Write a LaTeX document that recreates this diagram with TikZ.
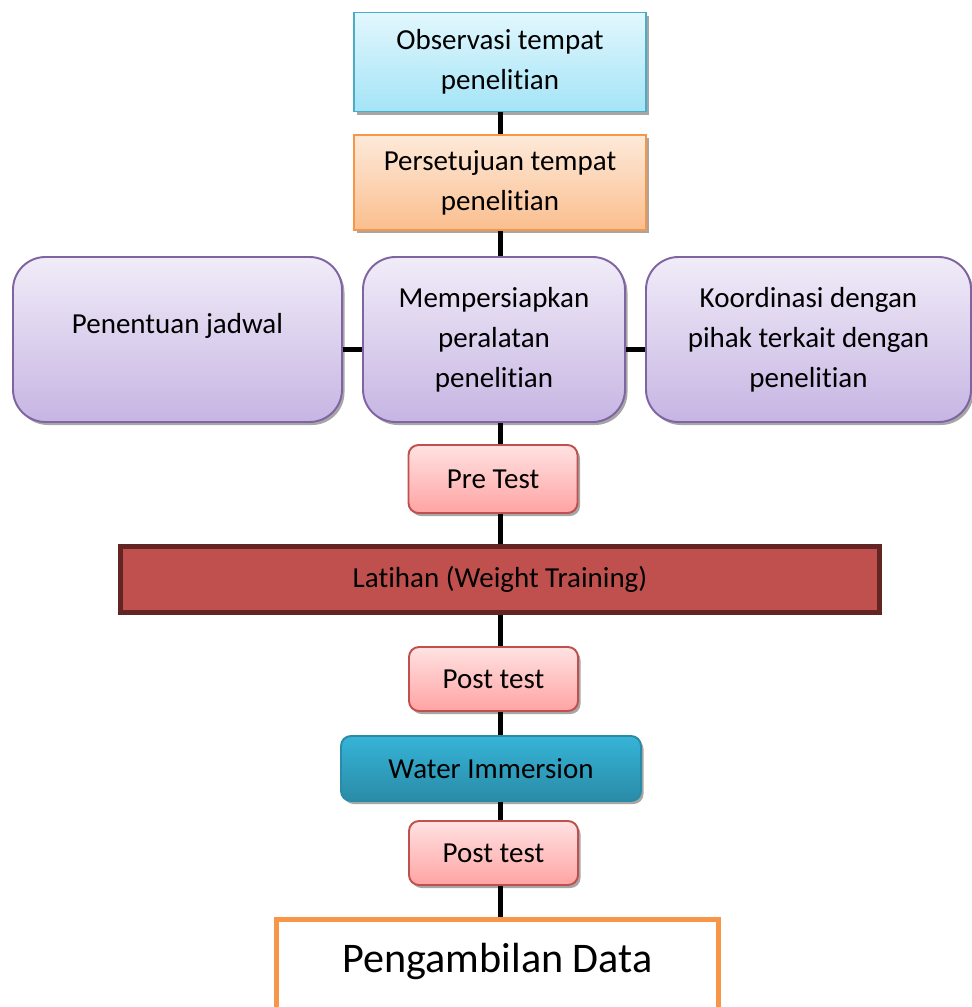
\documentclass[tikz,border=0pt]{standalone}
\usepackage{fontspec}
\setmainfont{Carlito}[Ligatures=NoCommon]
\usetikzlibrary{shadows, backgrounds, calc}
\definecolor{obsline}{RGB}{75, 172, 198}
\definecolor{obstop}{RGB}{226, 247, 253}
\definecolor{obsbot}{RGB}{164, 228, 247}
\definecolor{setline}{RGB}{247, 150, 70}
\definecolor{settop}{RGB}{253, 234, 218}
\definecolor{setbot}{RGB}{251, 190, 142}
\definecolor{prpline}{RGB}{128, 100, 162}
\definecolor{prptop}{RGB}{241, 236, 248}
\definecolor{prpbot}{RGB}{198, 181, 227}
\definecolor{tstline}{RGB}{192, 80, 77}
\definecolor{tsttop}{RGB}{255, 226, 226}
\definecolor{tstbot}{RGB}{255, 163, 163}
\definecolor{latfill}{RGB}{192, 80, 77}
\definecolor{latline}{RGB}{99, 37, 35}
\definecolor{wattop}{RGB}{54, 180, 216}
\definecolor{watbot}{RGB}{42, 139, 167}
\tikzset{
  boxshadow/.style={drop shadow={shadow xshift=0.05cm, shadow yshift=-0.06cm,
                    fill=black, opacity=0.35}},
  base/.style={rectangle, align=center, line width=1.1pt,
               font=\fontsize{16.5}{22.8}\selectfont},
  obsbox/.style={base, draw=obsline, top color=obstop, bottom color=obsbot,
                 minimum width=5.84cm, minimum height=1.98cm, boxshadow},
  setbox/.style={base, draw=setline, top color=settop, bottom color=setbot,
                 minimum width=5.84cm, minimum height=1.9cm, boxshadow},
  prpbox/.style={base, rounded corners=0.65cm, draw=prpline, top color=prptop,
                 bottom color=prpbot, minimum width=#1, minimum height=3.3cm, boxshadow},
  prpbox/.default=5.24cm,
  tstbox/.style={base, rounded corners=0.2cm, draw=tstline, top color=tsttop,
                 bottom color=tstbot, minimum width=3.38cm, minimum height=#1, boxshadow},
  tstbox/.default=1.28cm,
  latbox/.style={base, draw=latline, fill=latfill, line width=0.1cm,
                 minimum width=15.18cm, minimum height=1.32cm},
  watbox/.style={base, rounded corners=0.2cm, draw=watbot, top color=wattop,
                 bottom color=watbot, minimum width=6.0cm, minimum height=1.3cm, boxshadow},
  databox/.style={rectangle, align=center, draw=setline, fill=white, line width=0.1cm,
                  minimum width=8.84cm, minimum height=2.5cm,
                  font=\fontsize{24}{29}\selectfont},
  link/.style={line width=0.1cm, black},
}

\begin{document}
\begin{tikzpicture}
  \useasboundingbox (0,0) rectangle (19.44,-20.14);

  % Persiapan
  \node[obsbox] (obs) at (10.0,-1.24) {Observasi tempat\\penelitian};
  \node[setbox] (setuju) at (10.0,-3.65) {Persetujuan tempat\\penelitian};
  \node[prpbox=6.58cm, text height=0.44cm, text depth=0.7cm] (jadwal) at (3.55,-6.79) {Penentuan jadwal};
  \node[prpbox] (siap) at (9.88,-6.79) {Mempersiapkan\\peralatan\\penelitian};
  \node[prpbox=6.5cm] (koord) at (16.17,-6.79) {Koordinasi dengan\\pihak terkait dengan\\penelitian};

  % Perlakuan
  \node[tstbox=1.36cm] (pre) at (9.86,-9.58) {Pre Test};
  \node[latbox] (latihan) at (10.0,-11.59) {Latihan (Weight Training)};
  \node[tstbox] (post1) at (9.87,-13.58) {Post test};
  \node[watbox] (water) at (9.82,-15.37) {Water Immersion};
  \node[tstbox] (post2) at (9.87,-17.06) {Post test};
  \node[databox, anchor=north, text height=0.6cm, text depth=1.0cm] (data) at (9.95,-18.34) {Pengambilan Data};

  % Garis penghubung
  \begin{scope}[on background layer]
    \draw[link] (obs) -- (setuju);
    \draw[link] (setuju) -- (obs |- siap.north);
    \draw[link] ([yshift=-0.2cm]jadwal.east) -- ([yshift=-0.2cm]siap.west);
    \draw[link] ([yshift=-0.2cm]siap.east) -- ([yshift=-0.2cm]koord.west);
    \draw[link] (obs |- siap.south) -- (obs |- pre.north);
    \draw[link] (obs |- pre.south) -- (latihan);
    \draw[link] (latihan) -- (obs |- post1.north);
    \draw[link] (obs |- post1.south) -- (obs |- water.north);
    \draw[link] (obs |- water.south) -- (obs |- post2.north);
    \draw[link] (obs |- post2.south) -- (obs |- data.north);
  \end{scope}
\end{tikzpicture}
\end{document}
